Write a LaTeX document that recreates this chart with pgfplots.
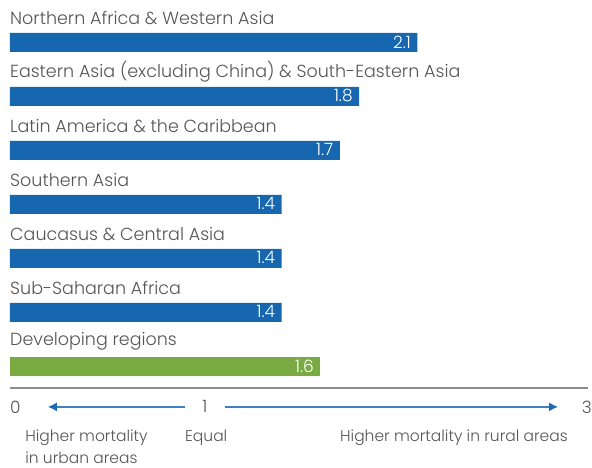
\documentclass[border=0pt]{standalone}
\usepackage{pgfplots}
\pgfplotsset{compat=1.18}
\usetikzlibrary{arrows.meta}
\usepackage{fontspec}
\setmainfont{Poppins Light}
\definecolor{barblue}{HTML}{1766B0}
\definecolor{bargreen}{HTML}{7AAA42}
\definecolor{txtgray}{HTML}{555555}
\definecolor{linegray}{HTML}{8C8C8C}
\definecolor{arrowblue}{HTML}{3F82C4}
\definecolor{tipblue}{HTML}{1F68B2}
\begin{document}
\begin{tikzpicture}
\useasboundingbox (0,0) rectangle (592pt,468pt);
\begin{axis}[
  at={(10pt,80pt)}, anchor=south west,
  scale only axis, width=582pt, height=388.8pt,
  xmin=0, xmax=3, ymin=-0.4, ymax=6.8,
  hide axis, clip=false,
  xbar, bar width=19pt, bar shift=0pt,
  nodes near coords,
  nodes near coords style={anchor=east, text=white, font=\fontsize{17}{17}\selectfont, xshift=-3pt, yshift=0.5pt, /pgf/number format/.cd, fixed, fixed zerofill, precision=1, assume math mode=true},
]
\addplot[fill=barblue, draw=none] coordinates {(2.1,6) (1.8,5) (1.7,4) (1.4,3) (1.4,2) (1.4,1)};
\addplot[fill=bargreen, draw=none] coordinates {(1.6,0)};
\begin{scope}[every node/.style={anchor=west, text=txtgray, font=\fontsize{17.5}{18}\selectfont, inner sep=0pt}]
\node at (axis cs:0,6.46) {Northern Africa \& Western Asia};
\node at (axis cs:0,5.46) {Eastern Asia (excluding China) \& South-Eastern Asia};
\node at (axis cs:0,4.46) {Latin America \& the Caribbean};
\node at (axis cs:0,3.46) {Southern Asia};
\node at (axis cs:0,2.46) {Caucasus \& Central Asia};
\node at (axis cs:0,1.46) {Sub-Saharan Africa};
\node at (axis cs:0,0.46) {Developing regions};
\end{scope}
\draw[linegray, line width=2pt] (axis cs:0,-0.4) -- (axis cs:2.98,-0.4);
\begin{scope}[every node/.style={text=txtgray, font=\fontsize{17}{17}\selectfont, inner sep=0pt}]
\node[anchor=west] at (axis cs:0,-0.75) {0};
\node at (axis cs:1.005,-0.75) {1};
\node[anchor=east] at (axis cs:3,-0.75) {3};
\end{scope}
\begin{scope}[every node/.style={text=txtgray, font=\fontsize{15.5}{22}\selectfont, inner sep=0pt}]
\node[anchor=north west, align=left] at (axis cs:0.078,-1.17) {Higher mortality\\in urban areas};
\node[anchor=north west] at (axis cs:0.902,-1.17) {Equal};
\node[anchor=north west] at (axis cs:1.701,-1.17) {Higher mortality in rural areas};
\end{scope}
\draw[arrowblue, line width=1.5pt, -{Latex[length=9pt,width=9pt,color=tipblue]}] (axis cs:0.902,-0.75) -- (axis cs:0.195,-0.75);
\draw[arrowblue, line width=1.5pt, -{Latex[length=9pt,width=9pt,color=tipblue]}] (axis cs:1.108,-0.75) -- (axis cs:2.825,-0.75);
\end{axis}
\end{tikzpicture}
\end{document}
